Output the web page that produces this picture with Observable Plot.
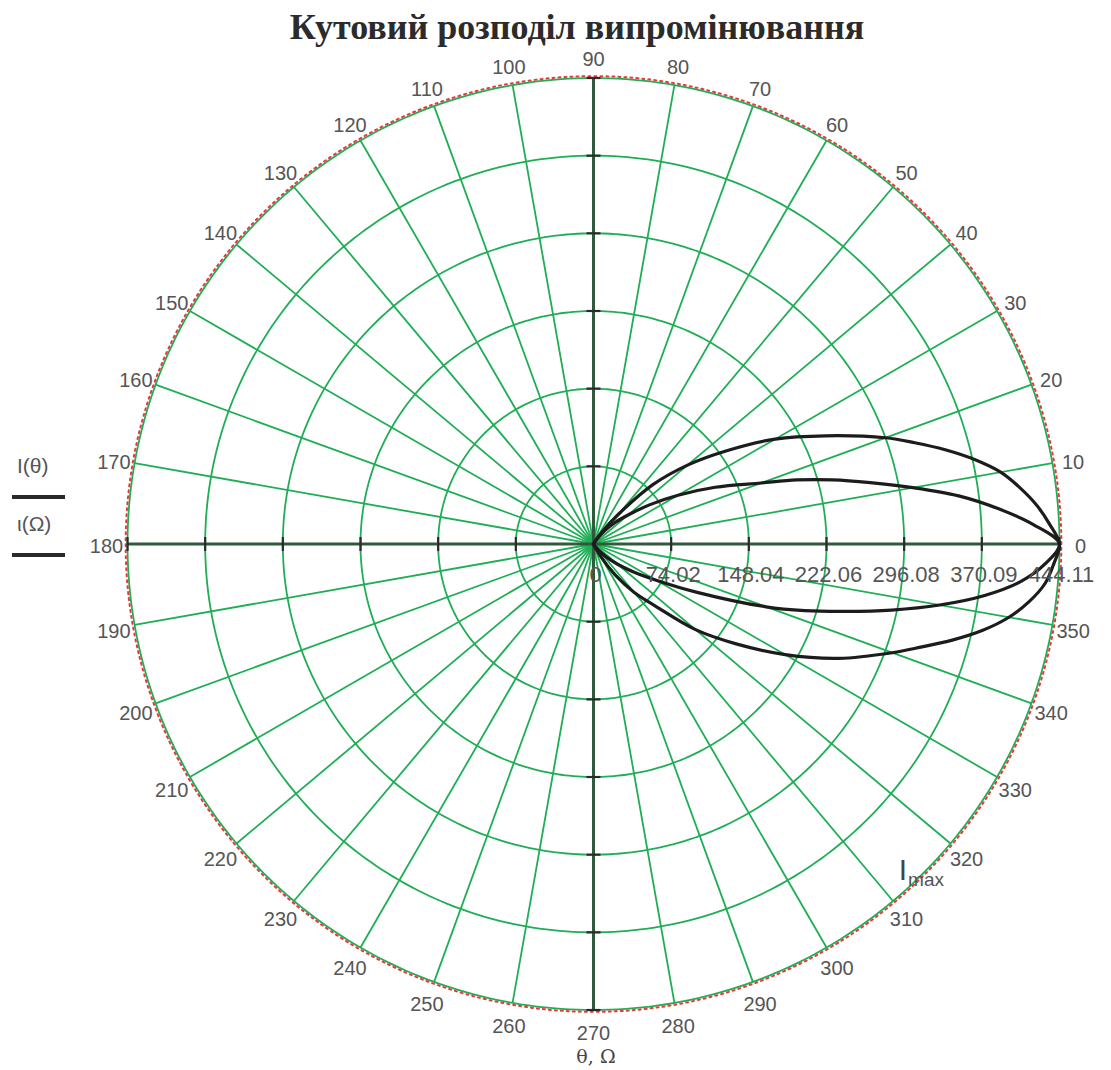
<!DOCTYPE html>
<html><head><meta charset="utf-8">
<script src="https://cdn.jsdelivr.net/npm/d3@7"></script>
<script src="https://cdn.jsdelivr.net/npm/@observablehq/plot@0.6"></script>
<style>
body{margin:0;background:#fff;}
#wrap{position:relative;width:1111px;height:1070px;overflow:hidden;background:#fff;}
#title{position:absolute;left:577px;top:6px;transform:translateX(-50%);white-space:nowrap;font-family:"Liberation Serif",serif;font-weight:bold;font-size:36px;color:#2b2b2b;}
#chart{position:absolute;left:0;top:50px;}
#xlabel{position:absolute;left:596px;top:1045px;transform:translateX(-50%);white-space:nowrap;font-family:"DejaVu Serif",serif;font-size:19px;color:#444;}
.legtxt{position:absolute;left:17px;font-family:"Liberation Sans",sans-serif;font-size:21px;color:#555;}
.legline{position:absolute;left:12px;width:53px;height:4px;background:#2a2a2a;}
</style></head>
<body>
<div id="wrap">
  <div id="title">Кутовий розподіл випромінювання</div>
  <div id="chart"></div>
  <div class="legtxt" style="top:454px">I(θ)</div>
  <div class="legline" style="top:495px"></div>
  <div class="legtxt" style="top:512px">ι(Ω)</div>
  <div class="legline" style="top:553px"></div>
  <div id="xlabel">θ, Ω</div>
</div>
<script>
// ---- data ----
const Imax = 444.11;
const ringValues = [74.02, 148.04, 222.06, 296.08, 370.09, 444.11];
const radialTickValues = [0, 74.02, 148.04, 222.06, 296.08, 370.09, 444.11];
const radialTickLabels = ["0", "74.02", "148.04", "222.06", "296.08", "370.09", "444.11"];
const angleTicks = [0,10,20,30,40,50,60,70,80,90,100,110,120,130,140,150,160,170,180,190,200,210,220,230,240,250,260,270,280,290,300,310,320,330,340,350];
const lobeAngles = [-65,-60,-55,-50,-45,-40,-35,-30,-25,-20,-17.5,-15,-12.5,-10,-7.5,-5,-2.5,0,2.5,5,7.5,10,12.5,15,17.5,20,25,30,35,40,45,50,55,60,65];
const seriesI    = [0,14,36,60,84,127,166,211,258,303,327,354,380,402,419,432,439,444.11,435,424,410,394,372,347,321,296,244,200,155,117,80,37,14,3,0];
const seriesIota = [0,0,3,9,18,30,46,69,109,175,211,248,291,335,376,409,431,444.11,420,387,351,309,270,236,203,170,128,93,65,43,29,16,7,0,0];

// ---- geometry helpers ----
const rad = d => d * Math.PI / 180;
const W = 1111, H = 990, cx = 593, cy = 493.5;
const k = 466 / Imax; // px per unit
const green = "#1fae55";
const axisCol = "#2f5a3c";

function lobePoints(name, vals) {
  const out = [];
  lobeAngles.forEach((a, i) => {
    const r = vals[i];
    const p = {series: name, x: r * Math.cos(rad(a)), y: r * Math.sin(rad(a))};
    const last = out[out.length - 1];
    if (!last || Math.hypot(last.x - p.x, last.y - p.y) > 1e-9) out.push(p);
  });
  return out;
}
const lobes = [...lobePoints("I(θ)", seriesI), ...lobePoints("ι(Ω)", seriesIota)];

const ringPts = [];
for (const rv of ringValues) for (let a = 0; a <= 360; a += 1) ringPts.push({ring: rv, x: rv * Math.cos(rad(a)), y: rv * Math.sin(rad(a))});

const labR = 487 / k;
const tickHalf = 7 / k;
const tickRings = ringValues;

const chart = Plot.plot({
  width: W, height: H, margin: 0,
  style: {fontFamily: "'Liberation Sans', sans-serif", background: "transparent", overflow: "visible"},
  x: {domain: [-cx / k, (W - cx) / k], axis: null},
  y: {domain: [-(H - cy) / k, cy / k], axis: null},
  marks: [
    Plot.link(angleTicks, {x1: 0, y1: 0, x2: a => Imax * Math.cos(rad(a)), y2: a => Imax * Math.sin(rad(a)), stroke: green, strokeWidth: 1.8}),
    Plot.line(ringPts, {x: "x", y: "y", z: "ring", stroke: green, strokeWidth: 1.8}),
    Plot.line(ringPts.filter(d => d.ring === Imax), {x: d => d.x * 1.004, y: d => d.y * 1.004, stroke: "#e8383d", strokeWidth: 2, strokeDasharray: "2,4"}),
    Plot.link([0, 90], {x1: a => -Imax * Math.cos(rad(a)), y1: a => -Imax * Math.sin(rad(a)), x2: a => Imax * Math.cos(rad(a)), y2: a => Imax * Math.sin(rad(a)), stroke: axisCol, strokeWidth: 3}),
    // ticks on horizontal axis
    Plot.link([...tickRings, ...tickRings.map(v => -v)], {x1: d => d, x2: d => d, y1: -tickHalf, y2: tickHalf, stroke: "#2a2a2a", strokeWidth: 2.2}),
    // ticks on vertical axis
    Plot.link([...tickRings, ...tickRings.map(v => -v)], {y1: d => d, y2: d => d, x1: -tickHalf, x2: tickHalf, stroke: "#2a2a2a", strokeWidth: 2.2}),
    Plot.line(lobes, {x: "x", y: "y", z: "series", curve: "catmull-rom", stroke: "#1c1c1c", strokeWidth: 3.2}),
    Plot.text(radialTickValues, {x: d => d, y: 0, text: (d, i) => radialTickLabels[i], dx: 2, dy: 31, fontSize: 22, fill: "#555"}),
    Plot.text(angleTicks, {x: a => labR * Math.cos(rad(a)), y: a => labR * Math.sin(rad(a)), text: a => String(a), dy: 3, fontSize: 20, fill: "#555"}),
    Plot.text([313.5], {x: a => Imax * 0.965 * Math.cos(rad(a)), y: a => Imax * 0.965 * Math.sin(rad(a)), text: () => "I", fontSize: 30, fill: "#444"}),
    Plot.text([313.5], {x: a => Imax * 0.965 * Math.cos(rad(a)), y: a => Imax * 0.965 * Math.sin(rad(a)), text: () => "max", dx: 23, dy: 10, fontSize: 19, fill: "#555"})
  ]
});
document.getElementById("chart").appendChild(chart);
</script>
</body></html>
